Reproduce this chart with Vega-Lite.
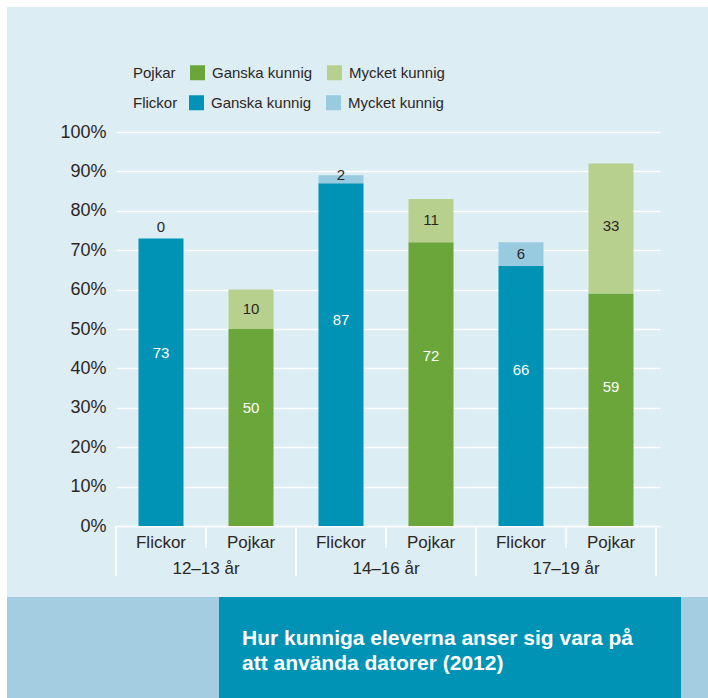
{
  "$schema": "https://vega.github.io/schema/vega-lite/v6.json",
  "background": "#ffffff",
  "padding": {"left": 7, "top": 7, "right": 0, "bottom": 0},
  "spacing": 0,
  "config": {
    "font": "Liberation Sans",
    "view": {"stroke": null},
    "concat": {"spacing": 0},
    "text": {"font": "Liberation Sans"}
  },
  "datasets": {
    "elever": [
      {"stapel": "Flickor 12–13 år", "kon": "Flickor", "alder": "12–13 år", "niva": "Ganska kunnig", "serie": "Flickor|Ganska kunnig", "varde": 73},
      {"stapel": "Flickor 12–13 år", "kon": "Flickor", "alder": "12–13 år", "niva": "Mycket kunnig", "serie": "Flickor|Mycket kunnig", "varde": 0},
      {"stapel": "Pojkar 12–13 år", "kon": "Pojkar", "alder": "12–13 år", "niva": "Ganska kunnig", "serie": "Pojkar|Ganska kunnig", "varde": 50},
      {"stapel": "Pojkar 12–13 år", "kon": "Pojkar", "alder": "12–13 år", "niva": "Mycket kunnig", "serie": "Pojkar|Mycket kunnig", "varde": 10},
      {"stapel": "Flickor 14–16 år", "kon": "Flickor", "alder": "14–16 år", "niva": "Ganska kunnig", "serie": "Flickor|Ganska kunnig", "varde": 87},
      {"stapel": "Flickor 14–16 år", "kon": "Flickor", "alder": "14–16 år", "niva": "Mycket kunnig", "serie": "Flickor|Mycket kunnig", "varde": 2},
      {"stapel": "Pojkar 14–16 år", "kon": "Pojkar", "alder": "14–16 år", "niva": "Ganska kunnig", "serie": "Pojkar|Ganska kunnig", "varde": 72},
      {"stapel": "Pojkar 14–16 år", "kon": "Pojkar", "alder": "14–16 år", "niva": "Mycket kunnig", "serie": "Pojkar|Mycket kunnig", "varde": 11},
      {"stapel": "Flickor 17–19 år", "kon": "Flickor", "alder": "17–19 år", "niva": "Ganska kunnig", "serie": "Flickor|Ganska kunnig", "varde": 66},
      {"stapel": "Flickor 17–19 år", "kon": "Flickor", "alder": "17–19 år", "niva": "Mycket kunnig", "serie": "Flickor|Mycket kunnig", "varde": 6},
      {"stapel": "Pojkar 17–19 år", "kon": "Pojkar", "alder": "17–19 år", "niva": "Ganska kunnig", "serie": "Pojkar|Ganska kunnig", "varde": 59},
      {"stapel": "Pojkar 17–19 år", "kon": "Pojkar", "alder": "17–19 år", "niva": "Mycket kunnig", "serie": "Pojkar|Mycket kunnig", "varde": 33}
    ],
    "tom": []
  },
  "vconcat": [
    {
      "width": 701,
      "height": 590,
      "view": {"fill": "#dcedf4", "stroke": null},
      "data": {"name": "elever"},
      "layer": [
        {
          "transform": [{"filter": "datum.kon == 'Pojkar'"}],
          "mark": {"type": "bar", "width": {"band": 0.5}},
          "encoding": {
            "x": {
              "field": "stapel", "type": "nominal",
              "scale": {"domain": ["Flickor 12–13 år", "Pojkar 12–13 år", "Flickor 14–16 år", "Pojkar 14–16 år", "Flickor 17–19 år", "Pojkar 17–19 år"], "range": [109, 649], "paddingInner": 0, "paddingOuter": 0},
              "axis": {
                "title": null, "labelAngle": 0, "labelExpr": "split(datum.label, ' ')[0]",
                "labelFontSize": 17, "labelColor": "#2d261f", "labelPadding": 8,
                "ticks": false, "domainColor": "#ffffff", "domainWidth": 1.5, "offset": -71
              }
            },
            "y": {
              "field": "varde", "type": "quantitative", "stack": "zero",
              "scale": {"domain": [0, 100], "range": [519, 125]},
              "axis": {
                "values": [0, 10, 20, 30, 40, 50, 60, 70, 80, 90, 100],
                "labelExpr": "datum.value + '%'",
                "labelFontSize": 18, "labelColor": "#2d261f", "labelPadding": 554,
                "grid": false, "domain": false, "offset": -109,
                "ticks": true, "tickSize": -544, "tickColor": "#ffffff", "tickWidth": 1.5,
                "title": null
              }
            },
            "order": {"field": "niva", "sort": "ascending"},
            "color": {
              "field": "serie", "type": "nominal",
              "scale": {"domain": ["Pojkar|Ganska kunnig", "Pojkar|Mycket kunnig"], "range": ["#6aa63a", "#b8d08e"]},
              "legend": {
                "title": "Pojkar", "orient": "none", "legendX": 126, "legendY": 58,
                "direction": "horizontal", "titleOrient": "left",
                "labelExpr": "split(datum.label, '|')[1]",
                "symbolType": "square", "symbolSize": 225, "symbolStrokeWidth": 0, "symbolOpacity": 1,
                "labelFontSize": 15, "labelColor": "#2d261f", "labelOffset": 7,
                "titleFontSize": 15, "titleFontWeight": "normal", "titleColor": "#2d261f", "titlePadding": 14,
                "columnPadding": 14, "padding": 0
              }
            }
          }
        },
        {
          "transform": [{"filter": "datum.kon == 'Flickor'"}],
          "mark": {"type": "bar", "width": {"band": 0.5}},
          "encoding": {
            "x": {"field": "stapel", "type": "nominal"},
            "y": {
              "field": "varde", "type": "quantitative", "stack": "zero",
              "axis": {
                "values": [0, 10, 20, 30, 40, 50, 60, 70, 80, 90, 100],
                "labelExpr": "datum.value + '%'",
                "labelFontSize": 18, "labelColor": "#2d261f", "labelPadding": 554,
                "grid": false, "domain": false, "offset": -109,
                "ticks": true, "tickSize": -544, "tickColor": "#ffffff", "tickWidth": 1.5,
                "title": null
              }
            },
            "order": {"field": "niva", "sort": "ascending"},
            "fill": {
              "field": "serie", "type": "nominal",
              "scale": {"domain": ["Flickor|Ganska kunnig", "Flickor|Mycket kunnig"], "range": ["#0093b6", "#98cbe0"]},
              "legend": {
                "title": "Flickor", "orient": "none", "legendX": 126, "legendY": 88,
                "direction": "horizontal", "titleOrient": "left",
                "labelExpr": "split(datum.label, '|')[1]",
                "symbolType": "square", "symbolSize": 225, "symbolStrokeWidth": 0, "symbolOpacity": 1,
                "labelFontSize": 15, "labelColor": "#2d261f", "labelOffset": 7,
                "titleFontSize": 15, "titleFontWeight": "normal", "titleColor": "#2d261f", "titlePadding": 11,
                "columnPadding": 14, "padding": 0
              }
            }
          }
        },
        {
          "mark": {"type": "text", "fontSize": 15, "baseline": "middle", "color": "#ffffff"},
          "encoding": {
            "x": {"field": "stapel", "type": "nominal"},
            "y": {
              "field": "varde", "type": "quantitative", "stack": "zero", "bandPosition": 0.6,
              "axis": {
                "values": [0, 10, 20, 30, 40, 50, 60, 70, 80, 90, 100],
                "labelExpr": "datum.value + '%'",
                "labelFontSize": 18, "labelColor": "#2d261f", "labelPadding": 554,
                "grid": false, "domain": false, "offset": -109,
                "ticks": true, "tickSize": -544, "tickColor": "#ffffff", "tickWidth": 1.5,
                "title": null
              }
            },
            "order": {"field": "niva", "sort": "ascending"},
            "detail": {"field": "serie"},
            "text": {"condition": {"test": "datum.niva == 'Ganska kunnig'", "field": "varde", "type": "quantitative"}, "value": ""}
          }
        },
        {
          "mark": {"type": "text", "fontSize": 15, "baseline": "middle", "color": "#2d261f", "dy": {"expr": "datum.varde == 0 ? -11 : (datum.varde < 5 ? -4 : 0)"}},
          "encoding": {
            "x": {"field": "stapel", "type": "nominal"},
            "y": {
              "field": "varde", "type": "quantitative", "stack": "zero", "bandPosition": 0.52,
              "axis": {
                "values": [0, 10, 20, 30, 40, 50, 60, 70, 80, 90, 100],
                "labelExpr": "datum.value + '%'",
                "labelFontSize": 18, "labelColor": "#2d261f", "labelPadding": 554,
                "grid": false, "domain": false, "offset": -109,
                "ticks": true, "tickSize": -544, "tickColor": "#ffffff", "tickWidth": 1.5,
                "title": null
              }
            },
            "order": {"field": "niva", "sort": "ascending"},
            "detail": {"field": "serie"},
            "text": {"condition": {"test": "datum.niva == 'Mycket kunnig'", "field": "varde", "type": "quantitative"}, "value": ""}
          }
        },
        {
          "transform": [{"filter": "datum.kon == 'Flickor' && datum.niva == 'Ganska kunnig'"}],
          "mark": {"type": "rule", "color": "#ffffff", "strokeWidth": 1.5, "y2Offset": 50},
          "encoding": {
            "x": {"field": "stapel", "type": "nominal", "bandPosition": 0},
            "y": {"datum": 0},
            "y2": {"datum": 0}
          }
        },
        {
          "transform": [{"filter": "datum.kon == 'Pojkar' && datum.niva == 'Ganska kunnig'"}],
          "mark": {"type": "rule", "color": "#ffffff", "strokeWidth": 1.5, "y2Offset": 22},
          "encoding": {
            "x": {"field": "stapel", "type": "nominal", "bandPosition": 0},
            "y": {"datum": 0},
            "y2": {"datum": 0}
          }
        },
        {
          "transform": [{"filter": "datum.stapel == 'Pojkar 17–19 år' && datum.niva == 'Ganska kunnig'"}],
          "mark": {"type": "rule", "color": "#ffffff", "strokeWidth": 1.5, "y2Offset": 50},
          "encoding": {
            "x": {"field": "stapel", "type": "nominal", "bandPosition": 1},
            "y": {"datum": 0},
            "y2": {"datum": 0}
          }
        },
        {
          "transform": [{"filter": "datum.kon == 'Flickor' && datum.niva == 'Ganska kunnig'"}],
          "mark": {"type": "text", "fontSize": 17, "color": "#2d261f", "baseline": "middle", "dy": 43},
          "encoding": {
            "x": {"field": "stapel", "type": "nominal", "bandPosition": 1},
            "y": {"datum": 0},
            "text": {"field": "alder"}
          }
        }
      ]
    },
    {
      "hconcat": [
        {
          "width": 212, "height": 101,
          "view": {"fill": "#a3cde0", "stroke": null},
          "data": {"name": "tom"},
          "mark": "text",
          "encoding": {}
        },
        {
          "width": 462, "height": 101,
          "view": {"fill": "#0093b6", "stroke": null},
          "data": {"name": "tom"},
          "mark": "text",
          "encoding": {},
          "title": {
            "text": ["Hur kunniga eleverna anser sig vara på", "att använda datorer (2012)"],
            "anchor": "start", "orient": "top", "frame": "group",
            "offset": -77, "dx": 23,
            "color": "#ffffff", "font": "Liberation Sans", "fontSize": 21, "fontWeight": "bold", "lineHeight": 25
          }
        },
        {
          "width": 27, "height": 101,
          "view": {"fill": "#a3cde0", "stroke": null},
          "data": {"name": "tom"},
          "mark": "text",
          "encoding": {}
        }
      ]
    }
  ]
}
